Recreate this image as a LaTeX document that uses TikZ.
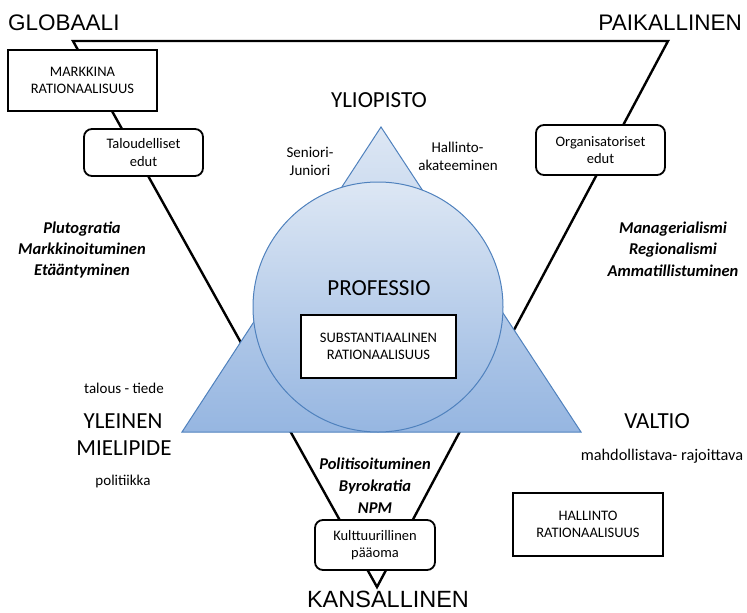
\documentclass[tikz,border=0pt]{standalone}
\usepackage{fontspec}
\setmainfont{Carlito}
\newfontfamily\arialf{Liberation Sans}
\definecolor{blueTop}{RGB}{221,231,244}
\definecolor{blueBot}{RGB}{150,182,225}
\definecolor{blueEdge}{RGB}{79,129,189}
\begin{document}
\begin{tikzpicture}[x=1pt,y=-1pt,
  bigline/.style={line width=2.4pt, line join=miter},
  sqbox/.style={draw, line width=2pt, fill=white, align=center, inner sep=0pt,
    font=\fontsize{14.5}{17.5}\selectfont},
  rbox/.style={draw, line width=1.8pt, fill=white, rounded corners=8pt, align=center, inner sep=0pt,
    font=\fontsize{14.5}{17.5}\selectfont},
  lbl/.style={anchor=base, inner sep=0pt},
  big/.style={lbl, font=\fontsize{23}{27}\selectfont},
  small/.style={lbl, font=\fontsize{15}{18}\selectfont},
  emph/.style={lbl, font=\fontsize{16.5}{20}\selectfont\bfseries\itshape},
  corner/.style={inner sep=0pt, font=\arialf\fontsize{22.5}{27}\selectfont},
  blueshape/.style={draw=blueEdge, line width=1pt, top color=blueTop, bottom color=blueBot}
]
\useasboundingbox (0,0) rectangle (747,613);

% inverted triangle
\coordinate (GL) at (73,41);
\coordinate (PK) at (668,41);
\coordinate (KS) at (377,587);
\draw[bigline] (GL) -- (PK) -- (KS) -- cycle;

% blue triangle and circle
\path[blueshape] (381,127) -- (581,432) -- (182,432) -- cycle;
\path[blueshape] (378,307) circle (125);

% boxes
\node[sqbox, minimum width=149pt, minimum height=61pt] (mark) at (82.5,80.5) {MARKKINA\\RATIONAALISUUS};
\node[rbox, minimum width=119pt, minimum height=47pt] (talo) at (143.5,152.5) {Taloudelliset\\edut};
\node[rbox, minimum width=129pt, minimum height=50pt] (orga) at (600.5,150) {Organisatoriset\\edut};
\node[sqbox, minimum width=155pt, minimum height=63pt] (subs) at (378.5,346.5) {SUBSTANTIAALINEN\\RATIONAALISUUS};
\node[sqbox, minimum width=150pt, minimum height=63pt] (hall) at (588,524.5) {HALLINTO\\RATIONAALISUUS};
\node[rbox, minimum width=120pt, minimum height=50pt] (kult) at (375,545) {Kulttuurillinen\\pääoma};

% corner labels
\node[corner, anchor=base west] (glob) at (8,30) {GLOBAALI};
\node[corner, anchor=base east] (paik) at (742,30) {PAIKALLINEN};
\node[corner, anchor=base, font=\arialf\fontsize{23.5}{28}\selectfont] (kans) at (388,607) {KANSALLINEN};

% main labels
\node[big] (ylio) at (379,107) {YLIOPISTO};
\node[big] (prof) at (379,295) {PROFESSIO};
\node[big] (ylei) at (123,428) {YLEINEN};
\node[big] (miel) at (124,455) {MIELIPIDE};
\node[big] (valt) at (657,428) {VALTIO};

% small labels
\node[small] (seni) at (310,157) {Seniori-};
\node[small] (juni) at (310,175) {Juniori};
\node[small] (hali) at (457.5,152) {Hallinto-};
\node[small] (akat) at (458,170) {akateeminen};
\node[small] (talt) at (124,393) {talous - tiede};
\node[small] (poli) at (123,485) {politiikka};
\node[small, font=\fontsize{16.3}{19}\selectfont] (mahd) at (662,460) {mahdollistava- rajoittava};

% bold italic labels
\node[emph] (plut) at (82,233) {Plutogratia};
\node[emph] (mrkk) at (82,254) {Markkinoituminen};
\node[emph] (etaa) at (82,275) {Etääntyminen};
\node[emph] (mana) at (673,233) {Managerialismi};
\node[emph] (regi) at (673,254) {Regionalismi};
\node[emph] (amma) at (673,276) {Ammatillistuminen};
\node[emph] (pols) at (375,469) {Politisoituminen};
\node[emph] (byro) at (375,491) {Byrokratia};
\node[emph] (npm) at (375,513) {NPM};
\end{tikzpicture}
\end{document}
